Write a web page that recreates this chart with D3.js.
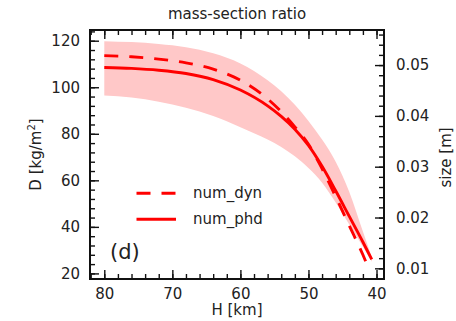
<!DOCTYPE html>
<html>
<head>
<meta charset="utf-8">
<script src="https://cdn.jsdelivr.net/npm/d3@7"></script>
<style>
  html, body { margin: 0; padding: 0; background: #fff; }
  svg { display: block; font-family: "DejaVu Sans", sans-serif; }
</style>
</head>
<body>
<svg id="chart" width="456" height="321"></svg>
<script>
// Height grid [km] and mass-section ratio D [kg/m^2]
const heightsPhd = [80, 76, 72, 68, 64, 60, 56, 54, 52, 50, 48, 46, 44, 42, 40.7];
const numPhd     = [108.5, 108.1, 107.3, 105.9, 103.3, 98.8, 92.0, 87.5, 82.0, 75.0, 66.0, 55.5, 44.5, 33.5, 26.0];

const heightsDyn = [80, 76, 72, 68, 64, 60, 56, 54, 52, 50, 48, 46, 44, 42, 41.0];
const numDyn     = [113.6, 113.1, 112.1, 110.5, 107.8, 103.0, 95.0, 89.5, 83.0, 75.5, 65.0, 53.0, 40.5, 28.0, 21.0];

// spread of num_phd (same height grid)
const bandUpper  = [119.8, 119.4, 118.6, 117.2, 114.6, 110.2, 103.0, 98.3, 92.5, 85.5, 77.5, 68.0, 55.0, 38.0, 27.0];
const bandLower  = [96.5, 95.6, 93.8, 91.2, 87.6, 82.8, 77.5, 74.3, 70.3, 65.3, 59.0, 50.5, 41.0, 31.5, 25.0];

const xTicks      = [80, 70, 60, 50, 40];
const yTicks      = [20, 40, 60, 80, 100, 120];
const sizeTicks   = [0.01, 0.02, 0.03, 0.04, 0.05];
const seriesNames = ["num_dyn", "num_phd"];

const svg = d3.select("#chart");
const L = 90, R = 384, T = 30, B = 279;

const x = d3.scaleLinear().domain([82.1, 38.9]).range([L, R]);
const y = d3.scaleLinear().domain([17.6, 124.6]).range([B, T]);
const ySize = d3.scaleLinear().domain([0.0079, 0.0569]).range([B, T]);

const red = "#ff0000";

// shaded band
const bandData = heightsPhd.map((h, i) => ({h, lo: bandLower[i], hi: bandUpper[i]}));
svg.append("path")
  .datum(bandData)
  .attr("fill", "#ffc8c8")
  .attr("d", d3.area()
    .x(d => x(d.h))
    .y0(d => y(d.lo))
    .y1(d => y(d.hi))
    .curve(d3.curveMonotoneX));

const line = d3.line().x(d => x(d[0])).y(d => y(d[1])).curve(d3.curveMonotoneX);

svg.append("path")
  .datum(heightsDyn.map((h, i) => [h, numDyn[i]]))
  .attr("fill", "none").attr("stroke", red).attr("stroke-width", 2.9)
  .attr("stroke-dasharray", "14,11")
  .attr("d", line);

svg.append("path")
  .datum(heightsPhd.map((h, i) => [h, numPhd[i]]))
  .attr("fill", "none").attr("stroke", red).attr("stroke-width", 2.9)
  .attr("d", line);

// axes with inward ticks
const minor = (lo, hi, step) => d3.range(Math.round(lo / step), Math.round(hi / step) + 1).map(k => +(k * step).toFixed(6));

function styleAxis(g) {
  g.select(".domain").remove();
  g.selectAll("line").attr("stroke", "#111").attr("stroke-width", 1.4);
  g.selectAll("text").attr("fill", "#222").style("font-size", "15px").style("font-family", "DejaVu Sans, sans-serif");
}

const xMinor = minor(40, 82, 2);
const yMinor = minor(20, 124, 4);
const sMinor = minor(0.008, 0.056, 0.002);

// bottom
svg.append("g").attr("transform", `translate(0,${B})`)
  .call(d3.axisBottom(x).tickValues(xMinor).tickSize(-5).tickFormat(""))
  .call(styleAxis);
svg.append("g").attr("transform", `translate(0,${B})`)
  .call(d3.axisBottom(x).tickValues(xTicks).tickSize(-9).tickPadding(9).tickFormat(d3.format("d")))
  .call(styleAxis);
// top
svg.append("g").attr("transform", `translate(0,${T})`)
  .call(d3.axisTop(x).tickValues(xMinor).tickSize(-5).tickFormat(""))
  .call(styleAxis);
svg.append("g").attr("transform", `translate(0,${T})`)
  .call(d3.axisTop(x).tickValues(xTicks).tickSize(-9).tickFormat(""))
  .call(styleAxis);
// left
svg.append("g").attr("transform", `translate(${L},0)`)
  .call(d3.axisLeft(y).tickValues(yMinor).tickSize(-5).tickFormat(""))
  .call(styleAxis);
svg.append("g").attr("transform", `translate(${L},0)`)
  .call(d3.axisLeft(y).tickValues(yTicks).tickSize(-9).tickPadding(10).tickFormat(d3.format("d")))
  .call(styleAxis);
// right
svg.append("g").attr("transform", `translate(${R},0)`)
  .call(d3.axisRight(ySize).tickValues(sMinor).tickSize(-5).tickFormat(""))
  .call(styleAxis);
svg.append("g").attr("transform", `translate(${R},0)`)
  .call(d3.axisRight(ySize).tickValues(sizeTicks).tickSize(-9).tickPadding(12).tickFormat(d3.format(".2f")))
  .call(styleAxis);

// frame
svg.append("rect")
  .attr("x", L).attr("y", T).attr("width", R - L).attr("height", B - T)
  .attr("fill", "none").attr("stroke", "#111").attr("stroke-width", 2);

// title and axis labels
svg.append("text").attr("x", (L + R) / 2).attr("y", 19)
  .attr("text-anchor", "middle").attr("fill", "#222").style("font-size", "15px")
  .text("mass-section ratio");

svg.append("text").attr("x", (L + R) / 2).attr("y", 315)
  .attr("text-anchor", "middle").attr("fill", "#222").style("font-size", "15px")
  .text("H [km]");

const yl = svg.append("text")
  .attr("transform", `translate(41,${(T + B) / 2}) rotate(-90)`)
  .attr("text-anchor", "middle").attr("fill", "#222").style("font-size", "15px");
yl.append("tspan").text("D [kg/m");
yl.append("tspan").attr("dy", -6).style("font-size", "10px").text("2");
yl.append("tspan").attr("dy", 6).text("]");

svg.append("text")
  .attr("transform", `translate(451,${(T + B) / 2 + 3}) rotate(-90)`)
  .attr("text-anchor", "middle").attr("fill", "#222").style("font-size", "15px")
  .text("size [m]");

// legend
const legend = svg.append("g");
seriesNames.forEach((name, i) => {
  const ly = 193.3 + i * 26;
  legend.append("line")
    .attr("x1", 136.5).attr("x2", 176).attr("y1", ly).attr("y2", ly)
    .attr("stroke", red).attr("stroke-width", 2.9)
    .attr("stroke-dasharray", i === 0 ? "14,11" : null);
  legend.append("text").attr("x", 193).attr("y", ly + 5)
    .attr("fill", "#222").style("font-size", "15px").text(name);
});

// panel tag
svg.append("text").attr("x", 110).attr("y", 259)
  .attr("fill", "#222").style("font-size", "21px").text("(d)");
</script>
</body>
</html>
